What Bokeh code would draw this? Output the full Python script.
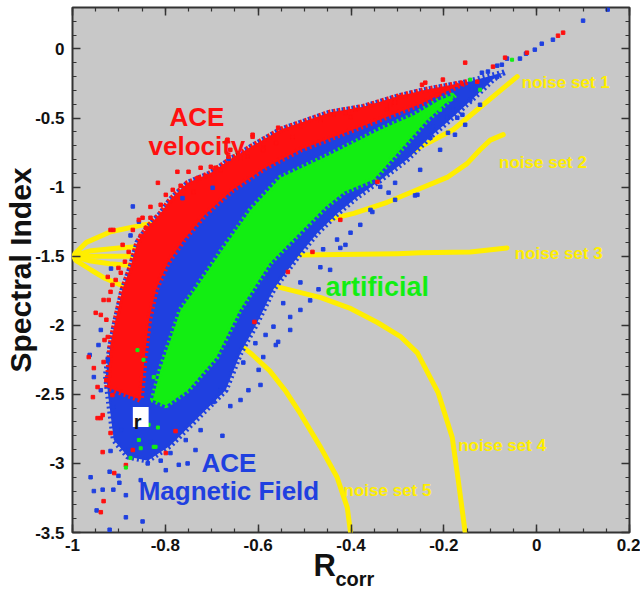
from bokeh.plotting import figure
from bokeh.models import Range1d, LinearAxis, FixedTicker, Label, BoxAnnotation, Title
from bokeh.embed import file_html
from bokeh.resources import INLINE

# ---------------- data ----------------
x_ticks = [-1, -0.8, -0.6, -0.4, -0.2, 0, 0.2]
x_tick_labels = ["-1", "-0.8", "-0.6", "-0.4", "-0.2", "0", "0.2"]
y_ticks = [-3.5, -3, -2.5, -2, -1.5, -1, -0.5, 0]
y_tick_labels = ["-3.5", "-3", "-2.5", "-2", "-1.5", "-1", "-0.5", "0"]

# envelope of the dense ACE magnetic field cloud (blue)
blue_env_x = [-0.07, -0.15, -0.245, -0.30, -0.374, -0.445, -0.552, -0.616, -0.66, -0.703, -0.752,
              -0.789, -0.810, -0.838, -0.860, -0.875, -0.892, -0.907, -0.918, -0.928, -0.922,
              -0.911, -0.881, -0.838, -0.789, -0.724, -0.670, -0.638, -0.602, -0.567, -0.515,
              -0.472, -0.429, -0.386, -0.337, -0.279, -0.229, -0.186, -0.128, -0.094]
blue_env_y = [-0.17, -0.24, -0.30, -0.345, -0.42, -0.46, -0.585, -0.71, -0.80, -0.90, -0.97,
              -1.09, -1.19, -1.29, -1.40, -1.58, -1.74, -1.96, -2.14, -2.36, -2.54,
              -2.83, -2.95, -2.98, -2.87, -2.65, -2.47, -2.20, -1.98, -1.74, -1.505,
              -1.33, -1.19, -1.07, -0.95, -0.80, -0.635, -0.51, -0.33, -0.22]

# envelope of the dense ACE velocity band (red)
red_env_x = [-0.15, -0.245, -0.30, -0.374, -0.445, -0.552, -0.616, -0.66, -0.703, -0.752, -0.789,
             -0.810, -0.838, -0.860, -0.875, -0.892, -0.907, -0.918, -0.925,
             -0.853, -0.845, -0.835, -0.820, -0.795, -0.760, -0.715, -0.655, -0.585, -0.509,
             -0.423, -0.337, -0.251, -0.165]
red_env_y = [-0.24, -0.30, -0.345, -0.42, -0.46, -0.585, -0.71, -0.80, -0.90, -0.97, -1.09,
             -1.19, -1.29, -1.40, -1.58, -1.74, -1.96, -2.14, -2.45,
             -2.54, -2.25, -1.96, -1.74, -1.55, -1.38, -1.20, -1.02, -0.86, -0.73,
             -0.62, -0.51, -0.40, -0.26]

# envelope of the dense artificial cloud (green)
green_env_x = [-0.176, -0.236, -0.288, -0.352, -0.415, -0.455, -0.505, -0.575, -0.640, -0.690,
               -0.752, -0.799, -0.827, -0.810, -0.789, -0.767, -0.735, -0.677, -0.616, -0.552,
               -0.445, -0.337, -0.262, -0.208]
green_env_y = [-0.331, -0.512, -0.708, -0.947, -1.034, -1.143, -1.310, -1.549, -1.889, -2.23,
               -2.47, -2.58, -2.54, -2.32, -2.11, -1.89, -1.74, -1.455, -1.165, -0.933,
               -0.766, -0.585, -0.476, -0.367]

# sparse points outside the dense regions
blue_pts_x = [-0.961, -0.954, -0.948, -0.920, -0.885, -0.849, -0.912, -0.935, -0.901, -0.920,
              -0.899, -0.816, -0.771, -0.677, -0.660, -0.696, -0.838, -0.810, -0.879, -0.918,
              -0.789, -0.885, -0.621, -0.681, -0.752,
              -0.870, -0.857, -0.917, -0.875, -0.763, -0.664, -0.698,
              -0.963, -0.939, -0.954, -0.924, -0.912,
              -0.319, -0.262, -0.401, -0.466, -0.470, -0.488, -0.531, -0.557, -0.584, -0.606,
              -0.358, -0.430, -0.460, -0.509, -0.546, -0.567, -0.632, -0.589,
              -0.257, -0.354, -0.423, -0.229, -0.191, -0.171, -0.128, -0.085, -0.075, -0.305, -0.337,
              0.100, 0.035, 0.011, -0.004, -0.023, -0.036, -0.064, -0.085, -0.105, -0.128, -0.139,
              -0.180, -0.193, -0.160, -0.223, -0.143, -0.118, 0.153,
              -0.896, -0.864, -0.832, -0.756, -0.724, -0.799, -0.853, -0.735, -0.638, -0.595,
              -0.599, -0.562, -0.531, -0.509, -0.445, -0.412, -0.380, -0.305, -0.251, -0.208,
              -0.176, -0.154, -0.122, -0.939, -0.944]
blue_pts_y = [-3.10, -3.20, -3.34, -3.48, -3.39, -3.42, -3.19, -3.19, -3.09, -3.06,
              -3.14, -2.88, -3.01, -2.80, -2.585, -2.555, -3.00, -2.98, -2.90, -2.91,
              -2.925, -3.23, -2.47, -2.47, -3.00,
              -1.14, -1.25, -1.59, -1.35, -1.08, -0.795, -1.005,
              -2.215, -2.47, -2.375, -2.25, -2.59,
              -1.04, -1.06, -1.33, -1.58, -1.74, -1.82, -1.94, -2.12, -2.07, -2.13,
              -1.165, -1.38, -1.45, -1.69, -1.84, -2.01, -2.27, -2.23,
              -1.056, -1.18, -1.44, -0.643, -0.607, -0.498, -0.28, -0.201, -0.114, -0.969, -0.998,
              0.205, 0.067, 0.038, -0.005, -0.034, -0.07, -0.07, -0.121, -0.164, -0.244, -0.295,
              -0.44, -0.491, -0.476, -0.563, -0.367, -0.172, 0.285,
              -2.759, -2.817, -2.846, -2.831, -2.759, -3.049, -3.121, -2.903, -2.541, -2.432,
              -2.323, -2.143, -2.034, -1.889, -1.599, -1.418, -1.273, -1.092, -0.875, -0.73,
              -0.621, -0.549, -0.404, -2.034, -2.143]

red_pts_x = [-0.612, -0.664, -0.681, -0.750, -0.774, -0.816, -0.739, -0.849, -0.832, -0.912,
             -0.892, -0.870, -0.860, -0.896, -0.924, -0.666, -0.660, -0.702, -0.918, -0.857,
             -0.950, -0.939, -0.965, -0.954, -0.956, -0.946, -0.935, -0.924, -0.933, -0.918, -0.907,
             -0.946, -0.939, -0.935, -0.910, -0.933, -0.939, -0.885, -0.870, -0.778, -0.799, -0.918,
             -0.154, -0.202, -0.247, -0.283, -0.305, -0.094, -0.128, -0.214, -0.322, -0.401, -0.438,
             0.057, 0.046, -0.021, -0.068, -0.343, -0.423,
             -0.240, -0.294, -0.316, -0.390, -0.445, -0.509, -0.557, -0.612, -0.589, -0.623,
             -0.483, -0.536, -0.608,
             -0.799, -0.784, -0.767, -0.730, -0.713, -0.692, -0.638, -0.590, -0.562, -0.526,
             -0.832, -0.842, -0.853, -0.879, -0.887, -0.901, -0.810, -0.724, -0.914, -0.922,
             -0.927, -0.931, -0.933, -0.927, -0.914, -0.466, -0.412, -0.358]
red_pts_y = [-0.621, -0.78, -0.875, -0.889, -0.889, -0.969, -1.034, -1.222, -1.143, -1.31,
             -1.418, -1.31, -1.49, -1.62, -1.65, -0.657, -0.73, -0.853, -1.31, -1.237,
             -1.91, -1.925, -2.23, -2.31, -2.52, -2.447, -2.65, -2.085, -1.817, -1.758, -1.672,
             -2.672, -2.672, -2.918, -3.07, -3.273, -3.353, -3.012, -2.903, -2.766, -2.925, -2.78,
             -0.099, -0.222, -0.259, -0.346, -0.389, -0.128, -0.237, -0.331, -0.44, -0.491, -0.476,
             0.118, 0.096, -0.027, -0.063, -0.962, -1.237,
             -0.244, -0.346, -0.404, -0.44, -0.476, -0.563, -0.57, -0.636, -0.715, -0.78,
             -1.469, -1.614, -1.976,
             -1.056, -1.02, -0.99, -0.933, -0.918, -0.86, -0.788, -0.73, -0.68, -0.636,
             -1.222, -1.295, -1.353, -1.469, -1.54, -1.585, -1.128, -0.86, -1.708, -1.817,
             -1.96, -2.107, -2.266, -2.397, -2.505, -0.513, -0.462, -0.411]

green_pts_x = [-0.857, -0.821, -0.875, -0.885, -0.853, -0.836, -0.816, -0.825,
               -0.847, -0.825, -0.860, -0.053, -0.122, -0.143, -0.187, -0.208]
green_pts_y = [-2.83, -2.88, -2.96, -3.03, -2.89, -2.72, -2.74, -2.88,
               -2.25, -2.375, -2.18, -0.078, -0.295, -0.222, -0.367, -0.44]

# noise curves
noise1_x = [-1.0, -0.993, -0.97, -0.918, -0.85, -0.789, -0.65, -0.5, -0.4, -0.287, -0.251, -0.180, -0.128, -0.085, -0.042]
noise1_y = [-1.5, -1.475, -1.40, -1.323, -1.275, -1.25, -1.14, -1.0, -0.9, -0.78, -0.71, -0.585, -0.44, -0.32, -0.20]
noise2_x = [-1.0, -0.96, -0.9, -0.853, -0.7, -0.55, -0.466, -0.394, -0.322, -0.251, -0.193, -0.15, -0.122, -0.100, -0.072]
noise2_y = [-1.5, -1.46, -1.44, -1.43, -1.38, -1.31, -1.25, -1.19, -1.11, -1.01, -0.93, -0.83, -0.73, -0.66, -0.62]
noise3_x = [-1.0, -0.9, -0.6, -0.466, -0.3, -0.251, -0.143, -0.064]
noise3_y = [-1.5, -1.5, -1.495, -1.49, -1.482, -1.476, -1.47, -1.44]
noise4_x = [-1.0, -0.96, -0.92, -0.868, -0.70, -0.573, -0.465, -0.40, -0.343, -0.294, -0.257, -0.212, -0.182, -0.169, -0.154]
noise4_y = [-1.5, -1.535, -1.555, -1.57, -1.64, -1.71, -1.80, -1.88, -1.98, -2.08, -2.20, -2.49, -2.81, -3.12, -3.5]
noise5_x = [-1.0, -0.993, -0.96, -0.93, -0.889, -0.78, -0.666, -0.617, -0.575, -0.54, -0.509, -0.466, -0.430, -0.408, -0.401]
noise5_y = [-1.5, -1.53, -1.60, -1.66, -1.72, -1.88, -2.07, -2.20, -2.33, -2.48, -2.64, -2.88, -3.10, -3.32, -3.5]

noise_labels = ["noise set 1", "noise set 2", "noise set 3", "noise set 4", "noise set 5"]
noise_label_x = [-0.032, -0.081, -0.047, -0.169, -0.416]
noise_label_y = [-0.244, -0.824, -1.483, -2.867, -3.194]

# ---------------- styling ----------------
BLUE = "#1f40e0"
RED = "#ff1010"
GREEN = "#12ee12"
YELLOW = "#ffee00"
BG = "#c8c8c8"
FONT = "Liberation Sans"
INK = "#111111"

p = figure(width=640, height=591, x_range=Range1d(-1, 0.2), y_range=Range1d(-3.5, 0.3),
           output_backend="svg", toolbar_location=None,
           min_border_left=72, min_border_right=11, min_border_top=7, min_border_bottom=59,
           background_fill_color=BG, border_fill_color="white",
           outline_line_color="#333333", outline_line_width=2)
p.grid.visible = False

x_minor = [round(-1 + 0.05 * i, 2) for i in range(25)]
y_minor = [round(-3.5 + 0.1 * i, 1) for i in range(39)]
x_over = {t: s for t, s in zip(x_ticks, x_tick_labels)}
y_over = {t: s for t, s in zip(y_ticks, y_tick_labels)}


def style_axis(ax, ticks, minor, over, show_labels, standoff=7):
    ax.ticker = FixedTicker(ticks=ticks, minor_ticks=minor)
    ax.axis_line_color = None
    ax.major_tick_in = 8
    ax.major_tick_out = 0
    ax.minor_tick_in = 4
    ax.minor_tick_out = 0
    ax.major_tick_line_color = "#333333"
    ax.minor_tick_line_color = "#333333"
    ax.major_tick_line_width = 1.5
    ax.minor_tick_line_width = 1.2
    ax.major_label_overrides = over
    if show_labels:
        ax.major_label_text_font = FONT
        ax.major_label_text_font_style = "bold"
        ax.major_label_text_font_size = "17px"
        ax.major_label_text_color = INK
        ax.major_label_standoff = standoff
    else:
        ax.major_label_text_font_size = "0px"
        ax.major_label_text_color = None
        ax.major_label_standoff = 0


style_axis(p.xaxis[0], x_ticks, x_minor, x_over, True, standoff=6)
style_axis(p.yaxis[0], y_ticks, y_minor, y_over, True, standoff=8)
top_ax = LinearAxis()
right_ax = LinearAxis()
style_axis(top_ax, x_ticks, x_minor, x_over, False)
style_axis(right_ax, y_ticks, y_minor, y_over, False)
p.add_layout(top_ax, "above")
p.add_layout(right_ax, "right")

yax = p.yaxis[0]
yax.axis_label = "Spectral Index"
yax.axis_label_text_font = FONT
yax.axis_label_text_font_style = "bold"
yax.axis_label_text_font_size = "30px"
yax.axis_label_text_color = INK
yax.axis_label_standoff = -5

# x-axis title: "R" with subscript "corr" (two titles below the axis)
p.add_layout(Title(text="R", align="left", offset=241, standoff=-12, vertical_align="top",
                   text_font=FONT, text_font_size="31px", text_font_style="bold",
                   text_color=INK), "below")
p.add_layout(Title(text="corr", align="left", offset=263, standoff=-22, vertical_align="top",
                   text_font=FONT, text_font_size="20px", text_font_style="bold",
                   text_color=INK), "below")

# noise curves (under the clouds)
for cx, cy in [(noise1_x, noise1_y), (noise2_x, noise2_y), (noise3_x, noise3_y),
               (noise4_x, noise4_y), (noise5_x, noise5_y)]:
    p.line(cx, cy, line_color=YELLOW, line_width=5, line_cap="round", line_join="round")

# dense clouds (ragged outline mimics the speckled edges)
for ex, ey, col in [(blue_env_x, blue_env_y, BLUE), (red_env_x, red_env_y, RED),
                    (green_env_x, green_env_y, GREEN)]:
    p.patch(ex, ey, fill_color=col, line_color=col, line_width=6, line_dash="2 3")

# sparse points
p.scatter(blue_pts_x, blue_pts_y, marker="square", size=3.5, color=BLUE)
p.scatter(red_pts_x, red_pts_y, marker="square", size=3.5, color=RED)
p.scatter(green_pts_x, green_pts_y, marker="square", size=3, color=GREEN)


def add_label(x, y, text, color, size, align="left"):
    p.add_layout(Label(x=x, y=y, text=text, text_color=color, text_font=FONT,
                       text_font_style="bold", text_font_size=size, text_align=align,
                       text_baseline="alphabetic"))


for t, lx, ly in zip(noise_labels, noise_label_x, noise_label_y):
    add_label(lx, ly, t, YELLOW, "17px")

add_label(-0.732, -0.491, "ACE", RED, "26px", align="center")
add_label(-0.732, -0.70, "velocity", RED, "26px", align="center")
add_label(-0.455, -1.722, "artificial", GREEN, "27px")
add_label(-0.663, -3.0, "ACE", BLUE, "26px", align="center")
add_label(-0.663, -3.20, "Magnetic Field", BLUE, "26px", align="center")

# small white box with "r"
p.add_layout(BoxAnnotation(left=-0.870, right=-0.836, bottom=-2.737, top=-2.592,
                           fill_color="white", fill_alpha=1, line_color=None))
add_label(-0.868, -2.70, "r", INK, "20px")

open("out.html", "w").write(file_html(p, INLINE))
